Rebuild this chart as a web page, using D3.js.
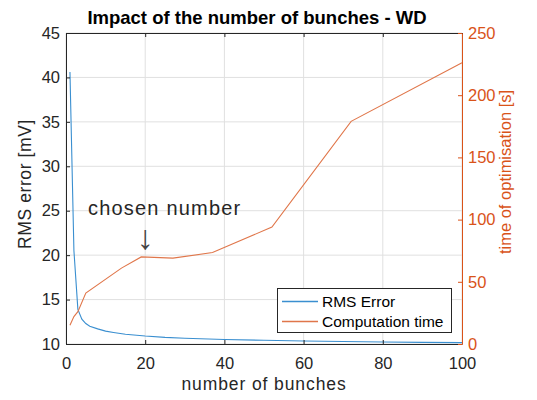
<!DOCTYPE html>
<html><head><meta charset="utf-8">
<script src="https://cdn.jsdelivr.net/npm/d3@7"></script>
<style>body{margin:0;background:#fff}svg{display:block;font-family:Arial,"Liberation Sans",Helvetica,sans-serif}</style>
</head><body><svg id="c" width="537" height="400"></svg>
<script>
const rmsX = [1,2,3,4,5,6,8,10,12,15,20,25,30,40,50,60,70,80,90,100];
const rmsY = [40.6,20.5,13.9,12.8,12.3,12.0,11.7,11.45,11.3,11.1,10.9,10.75,10.65,10.5,10.42,10.34,10.28,10.22,10.18,10.15];
const timeX = [1,2,3,5,14,19,27,37,52,72,100];
const timeY = [15,22,26,41,61,70,69,73.5,94,179,226];
const xTicks = [0,20,40,60,80,100];
const leftTicks = [10,15,20,25,30,35,40,45];
const rightTicks = [0,50,100,150,200,250];
const title = "Impact of the number of bunches - WD";
const xLabel = "number of bunches";
const leftLabel = "RMS error [mV]";
const rightLabel = "time of optimisation [s]";
const seriesNames = ["RMS Error","Computation time"];
const annotation = {text:"chosen number", arrow:"\u2193", x:20};

const blue = "#0072BD", orange = "#D95319", dark = "#262626";
const seriesColors = ["#3a8fd0", "#e0764a"];
const L = 66, R = 462, T = 33, B = 344;
const svg = d3.select("#c");
const x = d3.scaleLinear().domain([0,100]).range([L,R]);
const yl = d3.scaleLinear().domain([10,45]).range([B,T]);
const yr = d3.scaleLinear().domain([0,250]).range([B,T]);

// grid
const g = svg.append("g");
g.selectAll("line.v").data(xTicks).join("line").attr("class","v").attr("x1",d=>x(d)).attr("x2",d=>x(d)).attr("y1",T).attr("y2",B).attr("stroke","#e0e0e0");
g.selectAll("line.h").data(leftTicks).join("line").attr("class","h").attr("y1",d=>yl(d)).attr("y2",d=>yl(d)).attr("x1",L).attr("x2",R).attr("stroke","#e0e0e0");

// lines
const lb = d3.line().x(d=>x(d[0])).y(d=>yl(d[1]));
const lo = d3.line().x(d=>x(d[0])).y(d=>yr(d[1]));
svg.append("path").attr("d",lb(d3.zip(rmsX,rmsY))).attr("fill","none").attr("stroke",seriesColors[0]).attr("stroke-width",1.1);
svg.append("path").attr("d",lo(d3.zip(timeX,timeY))).attr("fill","none").attr("stroke",seriesColors[1]).attr("stroke-width",1.1);

// axes
const fs = "16.5px", ff = "Arial,'Liberation Sans',sans-serif";
const bx = svg.append("g").attr("transform",`translate(0,${B})`).call(d3.axisBottom(x).tickValues(xTicks).tickSize(-4).tickPadding(13).tickSizeOuter(0));
const tx = svg.append("g").attr("transform",`translate(0,${T})`).call(d3.axisTop(x).tickValues(xTicks).tickSize(-4).tickFormat("").tickSizeOuter(0));
const ly = svg.append("g").attr("transform",`translate(${L},0)`).call(d3.axisLeft(yl).tickValues(leftTicks).tickSize(-4).tickPadding(6).tickSizeOuter(0));
const ry = svg.append("g").attr("transform",`translate(${R},0)`).call(d3.axisRight(yr).tickValues(rightTicks).tickSize(-4).tickPadding(6).tickSizeOuter(0));
[bx,tx,ly].forEach(a=>{a.selectAll("path,line").attr("stroke",dark);a.selectAll("text").attr("fill",dark).style("font-size",fs).style("font-family",ff);});
ry.selectAll("path,line").attr("stroke",orange);
ry.selectAll("text").attr("fill",orange).style("font-size",fs).style("font-family",ff);

// labels
svg.append("text").attr("x",264).attr("y",390).attr("text-anchor","middle").attr("fill",dark).style("font-size","17.5px").style("letter-spacing","0.9px").text(xLabel);
svg.append("text").attr("transform",`translate(31,184) rotate(-90)`).attr("text-anchor","middle").attr("fill",dark).style("font-size","17.5px").style("letter-spacing","0.6px").text(leftLabel);
svg.append("text").attr("transform",`translate(511,172) rotate(-90)`).attr("text-anchor","middle").attr("fill",orange).style("font-size","16.5px").text(rightLabel);
svg.append("text").attr("x",257).attr("y",24).attr("text-anchor","middle").attr("fill","#000").style("font-size","18.5px").style("font-weight","bold").text(title);

// annotation
svg.append("text").attr("x",88).attr("y",215).attr("fill",dark).style("font-size","20px").style("letter-spacing","1.2px").text(annotation.text);
svg.append("text").attr("x",x(annotation.x)).attr("y",249).attr("text-anchor","middle").attr("fill","#444").style("font-size","34px").style("font-weight","300").text(annotation.arrow);

// legend
const lg = svg.append("g");
lg.append("rect").attr("x",277.5).attr("y",288.5).attr("width",174).attr("height",44).attr("fill","#fff").attr("stroke",dark).attr("stroke-width",1);
seriesNames.forEach((n,i)=>{
  const yy = 301.5 + i*20;
  lg.append("path").attr("d",`M282,${yy}H318`).attr("stroke",seriesColors[i]).attr("stroke-width",1.5).attr("fill","none");
  lg.append("text").attr("x",322).attr("y",yy).attr("dy","0.36em").attr("fill","#000").style("font-size","15.5px").text(n);
});
</script></body></html>
